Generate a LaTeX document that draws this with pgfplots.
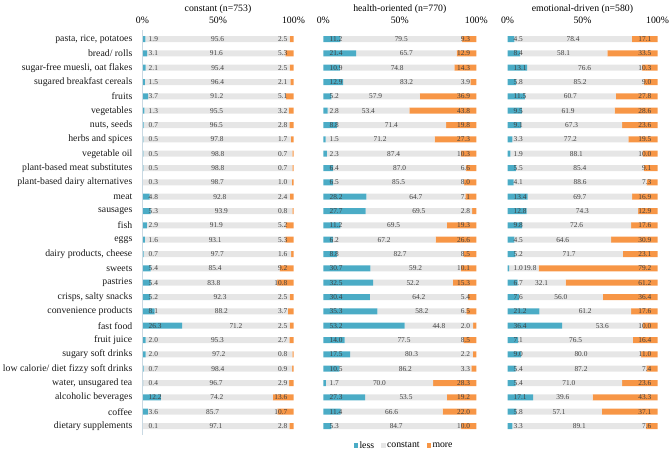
\documentclass[border=0pt]{standalone}
\usepackage{pgfplots}
\pgfplotsset{compat=1.18}
\usepackage{pgfplotstable}
\usepackage{fontspec}
\setmainfont{Liberation Serif}
\definecolor{cteal}{HTML}{4BACC6}
\definecolor{corange}{HTML}{F79646}
\definecolor{cgrey}{HTML}{E6E6E6}
\definecolor{ctext}{HTML}{404040}
\definecolor{cline}{HTML}{C9D9E3}
\newcommand\labfont{\fontsize{7.4pt}{8pt}\selectfont}
\newcommand\catfont{\fontsize{9.8pt}{11pt}\selectfont}

\pgfplotstableread{
y less const more
0 1.9 95.6 2.5
1 3.1 91.6 5.3
2 2.1 95.4 2.5
3 1.5 96.4 2.1
4 3.7 91.2 5.1
5 1.3 95.5 3.2
6 0.7 96.5 2.8
7 0.5 97.8 1.7
8 0.5 98.8 0.7
9 0.5 98.8 0.7
10 0.3 98.7 1.0
11 4.8 92.8 2.4
12 5.3 93.9 0.8
13 2.9 91.9 5.2
14 1.6 93.1 5.3
15 0.7 97.7 1.6
16 5.4 85.4 9.2
17 5.4 83.8 10.8
18 5.2 92.3 2.5
19 8.1 88.2 3.7
20 26.3 71.2 2.5
21 2.0 95.3 2.7
22 2.0 97.2 0.8
23 0.7 98.4 0.9
24 0.4 96.7 2.9
25 12.2 74.2 13.6
26 3.6 85.7 10.7
27 0.1 97.1 2.8
}\tabA

\pgfplotstableread{
y less const more
0 11.2 79.5 9.3
1 21.4 65.7 12.9
2 10.9 74.8 14.3
3 12.9 83.2 3.9
4 5.2 57.9 36.9
5 2.8 53.4 43.8
6 8.8 71.4 19.8
7 1.5 71.2 27.3
8 2.3 87.4 10.3
9 6.4 87.0 6.6
10 6.5 85.5 8.0
11 28.2 64.7 7.1
12 27.7 69.5 2.8
13 11.2 69.5 19.3
14 6.2 67.2 26.6
15 8.8 82.7 8.5
16 30.7 59.2 10.1
17 32.5 52.2 15.3
18 30.4 64.2 5.4
19 35.3 58.2 6.5
20 53.2 44.8 2.0
21 14.0 77.5 8.5
22 17.5 80.3 2.2
23 10.5 86.2 3.3
24 1.7 70.0 28.3
25 27.3 53.5 19.2
26 11.4 66.6 22.0
27 5.3 84.7 10.0
}\tabB

\pgfplotstableread{
y less const more
0 4.5 78.4 17.1
1 8.4 58.1 33.5
2 13.1 76.6 10.3
3 5.8 85.2 9.0
4 11.5 60.7 27.8
5 9.5 61.9 28.6
6 9.1 67.3 23.6
7 3.3 77.2 19.5
8 1.9 88.1 10.0
9 5.5 85.4 9.1
10 4.1 88.6 7.3
11 13.4 69.7 16.9
12 12.8 74.3 12.9
13 9.8 72.6 17.6
14 4.5 64.6 30.9
15 5.2 71.7 23.1
16 1.0 19.8 79.2
17 6.7 32.1 61.2
18 7.6 56.0 36.4
19 21.2 61.2 17.6
20 36.4 53.6 10.0
21 7.1 76.5 16.4
22 9.0 80.0 11.0
23 5.4 87.2 7.4
24 5.4 71.0 23.6
25 17.1 39.6 43.3
26 5.8 57.1 37.1
27 3.3 89.1 7.6
}\tabC

\pgfplotsset{
  panel/.style={scale only axis, width=#1, height=401.3bp,
    xmin=0, xmax=100, ymin=-0.5, ymax=27.5, y dir=reverse,
    anchor=south west, axis line style={draw=none}, tick style={draw=none},
    major tick length=0pt, clip=false},
  bars/.style={xbar stacked, bar width=6bp,
    xtick={0,50,100}, xticklabels={0\%,50\%,100\%}, xticklabel pos=upper,
    xticklabel style={anchor=center, yshift=11.5bp, font=\catfont, text=black},
    ytick=\empty,
    title style={at={(0.5,1)}, anchor=center, yshift=16.8bp, font=\catfont},
    legend image code/.code={\fill[##1] (0bp,-2.3bp) rectangle (4.5bp,2.3bp);}},
  labs/.style={xtick=\empty, ytick=\empty},
  nlab/.style={only marks, mark=none, nodes near coords, point meta=explicit symbolic,
    every node near coord/.append style={anchor=#1, inner sep=0pt, font=\labfont, text=ctext}},
}

\newcommand\barplots[1]{%
  \addplot[fill=cteal, draw=none] table[x=less, y=y] {#1};
  \addplot[fill=cgrey, draw=none] table[x=const, y=y] {#1};
  \addplot[fill=corange, draw=none] table[x=more, y=y] {#1};
}
\newcommand\labplots[1]{%
  \addplot[nlab=west] table[x expr=4, y=y, meta=less] {#1};
  \addplot[nlab=center] table[x expr={max(\thisrow{less}+\thisrow{const}/2,15)}, y=y, meta=const] {#1};
  \addplot[nlab=east] table[x expr=96, y=y, meta=more] {#1};
}

\begin{document}
\begin{tikzpicture}
\useasboundingbox (0,0) rectangle (670bp,450bp);
% panel 1
\begin{axis}[panel=151bp, bars, at={(142.5bp,16.8bp)}, title={constant (n=753)},
  ytick={0,...,27},
  yticklabels={{pasta, rice, potatoes},{bread/ rolls},{sugar-free muesli, oat flakes},{sugared breakfast cereals},{fruits},{vegetables},{nuts, seeds},{herbs and spices},{vegetable oil},{plant-based meat substitutes},{plant-based dairy alternatives},{meat},{sausages},{fish},{eggs},{dairy products, cheese},{sweets},{pastries},{crisps, salty snacks},{convenience products},{fast food},{fruit juice},{sugary soft drinks},{low calorie/ diet fizzy soft drinks},{water, unsugared tea},{alcoholic beverages},{coffee},{dietary supplements}},
  yticklabel style={anchor=east, inner sep=0pt, xshift=-10bp, font=\catfont, text=black!90}]
  \draw[cline, line width=0.6bp] (axis cs:0,-0.6) -- (axis cs:0,27.6);
  \barplots{\tabA}
\end{axis}
\begin{axis}[panel=151bp, labs, at={(142.5bp,16.8bp)}]
  \labplots{\tabA}
\end{axis}
% panel 2
\begin{axis}[panel=153bp, bars, at={(323.3bp,16.8bp)}, title={health-oriented (n=770)},
  legend style={at={(0.5,0)}, anchor=center, xshift=4bp, yshift=-12.5bp, draw=none, fill=none,
    font=\catfont, legend columns=-1, nodes={inner sep=1.2bp},
    /tikz/every even column/.append style={column sep=6bp}}]
  \barplots{\tabB}
  \legend{less, constant, more}
\end{axis}
\begin{axis}[panel=153bp, labs, at={(323.3bp,16.8bp)}]
  \labplots{\tabB}
\end{axis}
% panel 3
\begin{axis}[panel=150bp, bars, at={(507.5bp,16.8bp)}, title={emotional-driven (n=580)}]
  \barplots{\tabC}
\end{axis}
\begin{axis}[panel=150bp, labs, at={(507.5bp,16.8bp)}]
  \labplots{\tabC}
\end{axis}
\end{tikzpicture}
\end{document}
